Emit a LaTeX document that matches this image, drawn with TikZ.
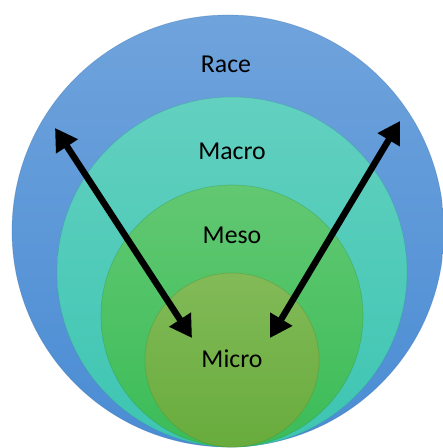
\documentclass[tikz,border=0pt]{standalone}
\usepackage{fontspec}
\setmainfont{Carlito}
\usetikzlibrary{arrows.meta}

\definecolor{raceTop}{HTML}{6FA3DC}
\definecolor{raceBot}{HTML}{4A8CD4}
\definecolor{macroTop}{HTML}{63D0C0}
\definecolor{macroBot}{HTML}{3DC5B2}
\definecolor{mesoTop}{HTML}{62C872}
\definecolor{mesoBot}{HTML}{3BBC58}
\definecolor{microTop}{HTML}{82BA58}
\definecolor{microBot}{HTML}{68AC3C}

\begin{document}
\begin{tikzpicture}[x=0.03cm,y=0.03cm,
    ring/.style={top color=#1Top,bottom color=#1Bot,draw=#1Bot!80!black,draw opacity=0.35,line width=0.6pt},
    lbl/.style={font=\fontsize{22}{26}\selectfont,text=black},
    twoway/.style={{Triangle[length=0.66cm,width=0.74cm]}-{Triangle[length=0.66cm,width=0.74cm]},line width=5.5pt,black}]
        \useasboundingbox (0,0) rectangle (442,448);
        % nested circles, all touching at the bottom
        \path[ring=race]  (228,217) circle [radius=216];
        \path[ring=macro] (232,176) circle [radius=175];
        \path[ring=meso]  (232,132) circle [radius=131];
        \path[ring=micro] (232,88)  circle [radius=87];
        \node[lbl](race)at(226,384){Race};
        \node[lbl](macro)at(232,297){Macro};
        \node[lbl](meso)at(232,213){Meso};
        \node[lbl](micro)at(232,89){Micro};
        % ends of the two arrows
        \coordinate (lefttop) at (55,320);
        \coordinate (leftend) at (192,110);
        \coordinate (righttop) at (400,327);
        \coordinate (rightend) at (270,110);
        \draw[twoway] (lefttop)--(leftend);
        \draw[twoway] (righttop)--(rightend);
    \end{tikzpicture}
\end{document}
